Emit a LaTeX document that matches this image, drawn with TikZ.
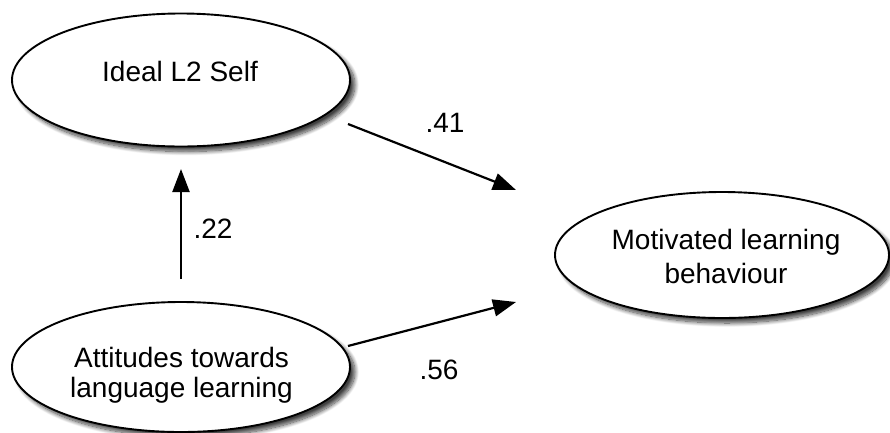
\documentclass[tikz,border=0pt]{standalone}
\usepackage{fontspec}
\setmainfont{Liberation Sans}
\usetikzlibrary{arrows.meta,shapes.geometric,shadows.blur}
\begin{document}
\begin{tikzpicture}[x=1pt,y=-1pt,
  construct/.style={ellipse,draw=black,line width=1.9pt,fill=white,inner sep=0pt,
    blur shadow={shadow xshift=5pt,shadow yshift=-5pt,shadow blur radius=4pt,
      shadow blur steps=12,shadow opacity=75}},
  lbl/.style={font=\fontsize{28}{30}\selectfont,align=center,inner sep=0pt},
  path/.style={line width=2.2pt,-{Triangle[length=23pt,width=17pt]}}]
  \useasboundingbox (0,0) rectangle (890,432);

  % latent constructs
  \node[construct,minimum width=338pt,minimum height=133pt] (ideal) at (181,80) {};
  \node[construct,minimum width=338pt,minimum height=130pt] (att) at (181,367) {};
  \node[construct,minimum width=334pt,minimum height=126pt] (mlb) at (722,255) {};

  \node[lbl] (idealtxt) at (180,71) {Ideal L2 Self};
  \node[lbl] (atttxt) at (181.5,375) {Attitudes towards\\language learning};
  \node[lbl,font=\fontsize{28}{34}\selectfont] (mlbtxt) at (726,256) {Motivated learning\\behaviour};

  % path endpoints
  \coordinate (a1) at (181,279);
  \coordinate (a2) at (181,169);
  \coordinate (b1) at (348,124);
  \coordinate (b2) at (516,190);
  \coordinate (c1) at (348,346);
  \coordinate (c2) at (516,302);

  \draw[path] (a1) -- (a2);
  \draw[path] (b1) -- (b2);
  \draw[path] (c1) -- (c2);

  % path coefficients
  \node[lbl] (k22) at (213,229) {.22};
  \node[lbl] (k41) at (445,123) {.41};
  \node[lbl] (k56) at (439,370) {.56};
\end{tikzpicture}
\end{document}
